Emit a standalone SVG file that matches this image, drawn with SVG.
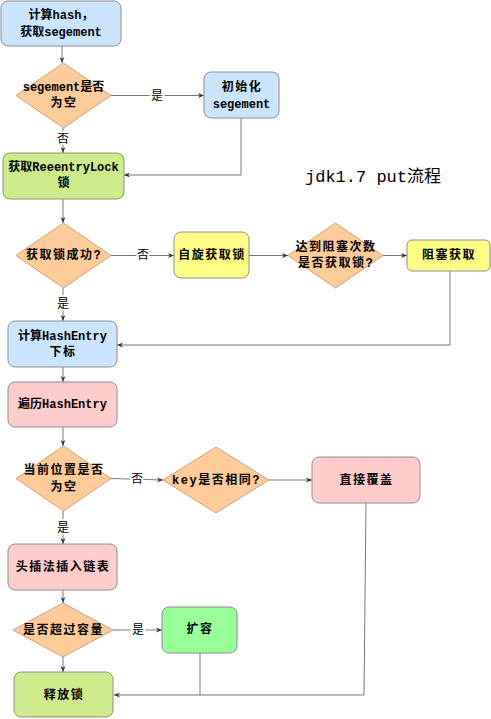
<svg xmlns="http://www.w3.org/2000/svg" width="491" height="719" viewBox="0 0 491 719">
<style>
.n{stroke:#8c8c8c;stroke-width:1}
.blue{fill:#cce5ff}
.green{fill:#cdeb8b}
.yellow{fill:#ffff88}
.pink{fill:#ffcccc}
.lgreen{fill:#99ff99}
.dia{fill:#ffcc99;stroke:#c8a27a;stroke-width:1}
text{font-family:"Liberation Mono","Noto Sans CJK SC",monospace;font-size:12px;font-weight:bold;fill:#000;text-anchor:middle;dominant-baseline:central}
.cj{letter-spacing:1.5px}
.lbl{font-weight:normal;stroke:#fff;stroke-width:4;paint-order:stroke;stroke-linejoin:round}
.title{font-size:17px;font-weight:normal;text-anchor:start;dominant-baseline:auto}
.c{fill:none;stroke:#777;stroke-width:1}
</style>
<defs>
<marker id="a" viewBox="0 0 10 10" refX="10" refY="5" markerWidth="6" markerHeight="6" orient="auto" markerUnits="userSpaceOnUse">
<path d="M0,1 L10,5 L0,9 L3,5 Z" fill="#333"/>
</marker>
</defs>
<rect width="491" height="719" fill="#fff"/>
<g id="connectors">
<path class="c" d="M62,46 L62,63" marker-end="url(#a)"/>
<path class="c" d="M111,95.5 L204,95.5" marker-end="url(#a)"/>
<path class="c" d="M241,118 L241,175 L124,175" marker-end="url(#a)"/>
<path class="c" d="M63,128 L63,153" marker-end="url(#a)"/>
<path class="c" d="M63,199 L63,223" marker-end="url(#a)"/>
<path class="c" d="M111,255.5 L174,255.5" marker-end="url(#a)"/>
<path class="c" d="M249,255.5 L288,255.5" marker-end="url(#a)"/>
<path class="c" d="M383,255.5 L407,255.5" marker-end="url(#a)"/>
<path class="c" d="M450,271 L450,345 L117,345" marker-end="url(#a)"/>
<path class="c" d="M63,288 L63,321" marker-end="url(#a)"/>
<path class="c" d="M63,367 L63,382" marker-end="url(#a)"/>
<path class="c" d="M63,427 L63,446" marker-end="url(#a)"/>
<path class="c" d="M111,478.5 L163,480" marker-end="url(#a)"/>
<path class="c" d="M269,480 L312,480" marker-end="url(#a)"/>
<path class="c" d="M366,503 L364,695 L114,695" marker-end="url(#a)"/>
<path class="c" d="M63,511 L63,544" marker-end="url(#a)"/>
<path class="c" d="M63,590 L63,603" marker-end="url(#a)"/>
<path class="c" d="M113,630 L162,630" marker-end="url(#a)"/>
<path class="c" d="M200,653 L200,695"/>
<path class="c" d="M63,657 L63,672" marker-end="url(#a)"/>
<text class="lbl" x="157" y="97">是</text>
<text class="lbl" x="63" y="140">否</text>
<text class="lbl" x="143" y="256">否</text>
<text class="lbl" x="63" y="305">是</text>
<text class="lbl" x="137" y="480">否</text>
<text class="lbl" x="63" y="529">是</text>
<text class="lbl" x="138" y="631">是</text>
</g>
<g id="n1"><rect class="n blue" x="1" y="1" width="120" height="45" rx="7"/><text x="61" y="16">计算hash，</text><text x="61" y="33">获取segement</text></g>
<g id="n2"><polygon class="dia" points="63.5,63 111,95.5 63.5,128 16,95.5"/><text x="63.5" y="88">segement是否</text><text class="cj" x="64" y="104">为空</text></g>
<g id="n3"><rect class="n blue" x="204" y="72" width="75" height="46" rx="7"/><text class="cj" x="242" y="88">初始化</text><text x="241.5" y="105">segement</text></g>
<g id="n4"><rect class="n green" x="3" y="153" width="121" height="46" rx="7"/><text x="63.5" y="168">获取ReeentryLock</text><text x="63.5" y="184">锁</text></g>
<g id="n5"><polygon class="dia" points="63.5,223 111,255.5 63.5,288 16,255.5"/><text class="cj" x="64" y="256">获取锁成功?</text></g>
<g id="n6"><rect class="n yellow" x="174" y="232" width="75" height="46" rx="7"/><text class="cj" x="212" y="256">自旋获取锁</text></g>
<g id="n7"><polygon class="dia" points="335.5,223 383,255.5 335.5,288 288,255.5"/><text class="cj" x="336" y="248">达到阻塞次数</text><text class="cj" x="336" y="264">是否获取锁?</text></g>
<g id="n8"><rect class="n yellow" x="407" y="240" width="83" height="31" rx="5"/><text class="cj" x="449" y="256">阻塞获取</text></g>
<g id="n9"><rect class="n blue" x="8" y="321" width="109" height="46" rx="7"/><text x="62.5" y="337">计算HashEntry</text><text class="cj" x="63" y="353">下标</text></g>
<g id="n10"><rect class="n pink" x="8" y="382" width="109" height="45" rx="7"/><text x="62.5" y="405">遍历HashEntry</text></g>
<g id="n11"><polygon class="dia" points="63.5,446 111,478.5 63.5,511 16,478.5"/><text class="cj" x="64" y="471">当前位置是否</text><text class="cj" x="64" y="488">为空</text></g>
<g id="n12"><polygon class="dia" points="216,447 269,480 216,513 163,480"/><text class="cj" x="216.5" y="481">key是否相同?</text></g>
<g id="n13"><rect class="n pink" x="312" y="457" width="108" height="46" rx="7"/><text class="cj" x="366.5" y="481">直接覆盖</text></g>
<g id="n14"><rect class="n pink" x="8" y="544" width="109" height="46" rx="7"/><text class="cj" x="63" y="568">头插法插入链表</text></g>
<g id="n15"><polygon class="dia" points="63,603 113,630 63,657 13,630"/><text class="cj" x="63.5" y="631">是否超过容量</text></g>
<g id="n16"><rect class="n lgreen" x="162" y="607" width="75" height="46" rx="7"/><text class="cj" x="200" y="630">扩容</text></g>
<g id="n17"><rect class="n green" x="14" y="672" width="99" height="45" rx="7"/><text class="cj" x="64" y="696">释放锁</text></g>
<text class="title" x="305" y="182">jdk1.7 put流程</text>
</svg>
